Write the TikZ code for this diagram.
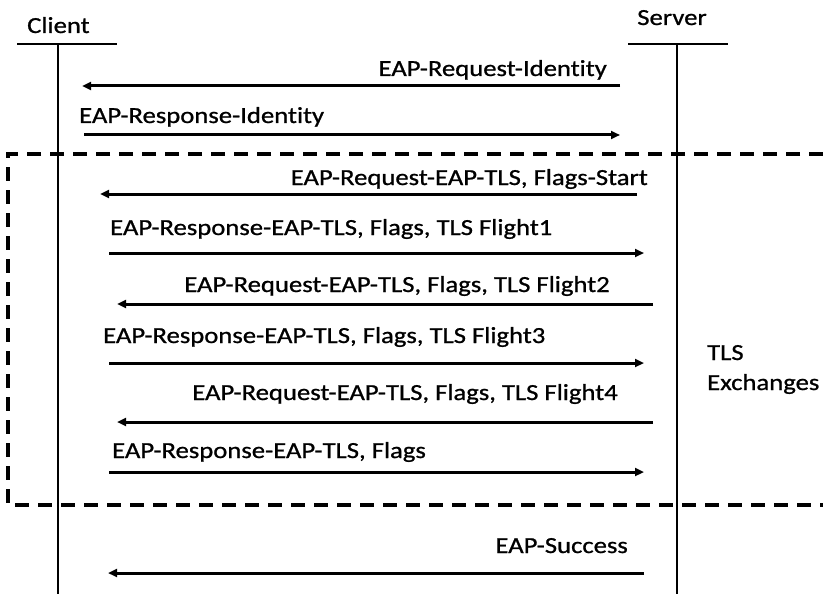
\documentclass[tikz,border=0pt]{standalone}
\usepackage{fontspec}
\setmainfont[FakeStretch=1.16,FakeBold=0.9,Ligatures=NoCommon]{Carlito}
\usetikzlibrary{arrows.meta}
\begin{document}
\begin{tikzpicture}[x=1pt,y=-1pt,
  lbl/.style={inner sep=0pt,font=\fontsize{23}{27}\selectfont},
  msg/.style={line width=3pt,-{Triangle[length=9pt,width=8pt]}},
  life/.style={line width=1.8pt},
  bar/.style={line width=2pt},
  tlsbox/.style={line width=3.2pt,dash pattern=on 14pt off 9pt}]
\useasboundingbox (0,0) rectangle (823,594);
% participants
\node[lbl,anchor=base west] (client) at (27,33) {Client};
\node[lbl,anchor=base] (server) at (672,25) {Server};
\coordinate (cbl) at (17,44); \coordinate (cbr) at (117,44);
\coordinate (sbl) at (628,44); \coordinate (sbr) at (728,44);
\coordinate (ctop) at (58,44); \coordinate (cbot) at (58,594);
\coordinate (stop) at (677,44); \coordinate (sbot) at (677,594);
\draw[bar] (cbl) -- (cbr);
\draw[bar] (sbl) -- (sbr);
\draw[life] (ctop) -- (cbot);
\draw[life] (stop) -- (sbot);
% dashed box
\coordinate (b1) at (823,154); \coordinate (b2) at (8,154);
\coordinate (b3) at (8,505); \coordinate (b4) at (823,505);
\draw[tlsbox] (b1) -- (b2) -- (b3) -- (b4);
% messages
\coordinate (m1s) at (620,86); \coordinate (m1e) at (82,86);
\draw[msg] (m1s) -- (m1e);
\node[lbl,anchor=base east] (l1) at (607,76) {EAP-Request-Identity};
\coordinate (m2s) at (84,135); \coordinate (m2e) at (620,135);
\draw[msg] (m2s) -- (m2e);
\node[lbl,anchor=base west] (l2) at (79,123) {EAP-Response-Identity};
\coordinate (m3s) at (637,194); \coordinate (m3e) at (100,194);
\draw[msg] (m3s) -- (m3e);
\node[lbl,anchor=base east] (l3) at (648,185) {EAP-Request-EAP-TLS, Flags-Start};
\coordinate (m4s) at (109,253); \coordinate (m4e) at (644,253);
\draw[msg] (m4s) -- (m4e);
\node[lbl,anchor=base west] (l4) at (110,235) {EAP-Response-EAP-TLS, Flags, TLS Flight1};
\coordinate (m5s) at (653,304); \coordinate (m5e) at (117,304);
\draw[msg] (m5s) -- (m5e);
\node[lbl,anchor=base east] (l5) at (610,292) {EAP-Request-EAP-TLS, Flags, TLS Flight2};
\coordinate (m6s) at (109,363); \coordinate (m6e) at (644,363);
\draw[msg] (m6s) -- (m6e);
\node[lbl,anchor=base west] (l6) at (103,343) {EAP-Response-EAP-TLS, Flags, TLS Flight3};
\coordinate (m7s) at (653,422); \coordinate (m7e) at (117,422);
\draw[msg] (m7s) -- (m7e);
\node[lbl,anchor=base east] (l7) at (618,400) {EAP-Request-EAP-TLS, Flags, TLS Flight4};
\coordinate (m8s) at (109,472); \coordinate (m8e) at (644,472);
\draw[msg] (m8s) -- (m8e);
\node[lbl,anchor=base west] (l8) at (112,458) {EAP-Response-EAP-TLS, Flags};
\coordinate (m9s) at (644,573); \coordinate (m9e) at (108,573);
\draw[msg] (m9s) -- (m9e);
\node[lbl,anchor=base east] (l9) at (628,553) {EAP-Success};
% TLS exchanges
\node[lbl,anchor=base west] (tls) at (707,360) {TLS};
\node[lbl,anchor=base west] (exch) at (707,390) {Exchanges};
\end{tikzpicture}
\end{document}
